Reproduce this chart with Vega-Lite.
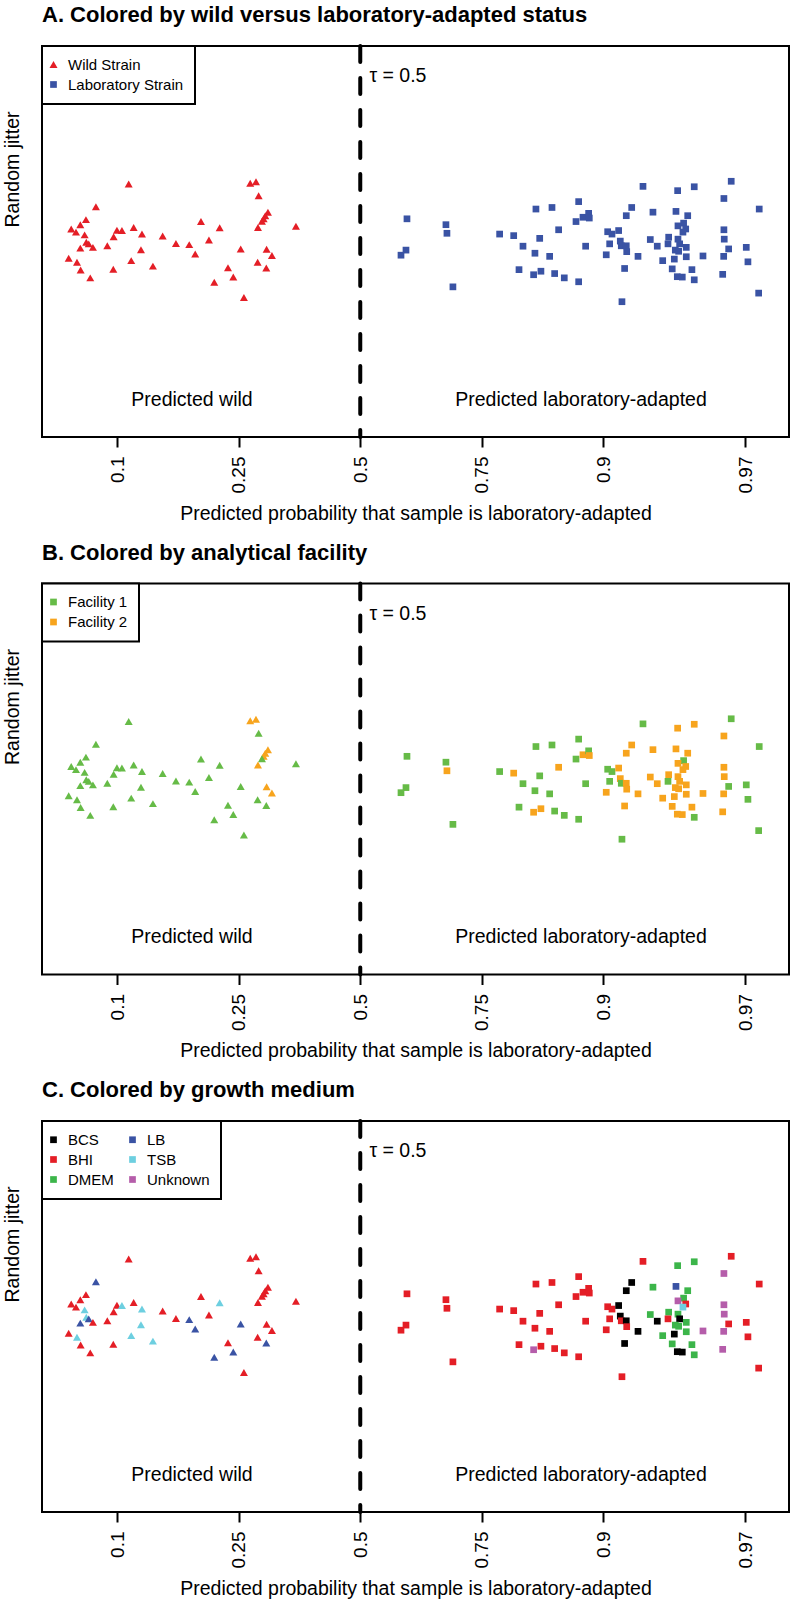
{
  "$schema": "https://vega.github.io/schema/vega-lite/v6.json",
  "padding": {"left": 1, "top": 3, "right": 0, "bottom": 0},
  "bounds": "flush",
  "spacing": 146.5,
  "resolve": {
    "scale": {"color": "independent", "shape": "independent", "size": "independent"},
    "legend": {"color": "independent", "shape": "independent", "size": "independent"}
  },
  "config": {
    "font": "Liberation Sans",
    "view": {"stroke": "black", "strokeWidth": 2},
    "title": {"fontSize": 22, "fontWeight": "bold", "anchor": "start", "frame": "group", "offset": 17, "baseline": "alphabetic", "color": "black"},
    "axis": {"grid": false},
    "legend": {"strokeColor": "black", "strokeWidth": 2, "fillColor": "white", "padding": 11, "labelFontSize": 15, "labelColor": "black", "symbolSize": 45, "rowPadding": 4, "labelOffset": 7, "symbolOffset": -7}
  },
  "datasets": {
    "pts": [
      {"score": -2.092, "jitter": 0.647, "status": "Wild Strain", "facility": "Facility 1", "medium": "BHI"},
      {"score": -0.994, "jitter": 0.649, "status": "Wild Strain", "facility": "Facility 2", "medium": "BHI"},
      {"score": -0.942, "jitter": 0.653, "status": "Wild Strain", "facility": "Facility 2", "medium": "BHI"},
      {"score": -0.918, "jitter": 0.617, "status": "Wild Strain", "facility": "Facility 1", "medium": "BHI"},
      {"score": -2.388, "jitter": 0.589, "status": "Wild Strain", "facility": "Facility 1", "medium": "LB"},
      {"score": -2.478, "jitter": 0.556, "status": "Wild Strain", "facility": "Facility 1", "medium": "BHI"},
      {"score": -2.529, "jitter": 0.543, "status": "Wild Strain", "facility": "Facility 1", "medium": "BHI"},
      {"score": -2.611, "jitter": 0.532, "status": "Wild Strain", "facility": "Facility 1", "medium": "BHI"},
      {"score": -2.568, "jitter": 0.524, "status": "Wild Strain", "facility": "Facility 1", "medium": "BHI"},
      {"score": -2.490, "jitter": 0.517, "status": "Wild Strain", "facility": "Facility 1", "medium": "TSB"},
      {"score": -2.198, "jitter": 0.529, "status": "Wild Strain", "facility": "Facility 1", "medium": "BHI"},
      {"score": -2.153, "jitter": 0.528, "status": "Wild Strain", "facility": "Facility 1", "medium": "TSB"},
      {"score": -2.047, "jitter": 0.536, "status": "Wild Strain", "facility": "Facility 1", "medium": "BHI"},
      {"score": -2.228, "jitter": 0.512, "status": "Wild Strain", "facility": "Facility 1", "medium": "BHI"},
      {"score": -1.972, "jitter": 0.519, "status": "Wild Strain", "facility": "Facility 1", "medium": "TSB"},
      {"score": -2.475, "jitter": 0.498, "status": "Wild Strain", "facility": "Facility 1", "medium": "TSB"},
      {"score": -2.453, "jitter": 0.494, "status": "Wild Strain", "facility": "Facility 1", "medium": "LB"},
      {"score": -2.529, "jitter": 0.483, "status": "Wild Strain", "facility": "Facility 1", "medium": "LB"},
      {"score": -2.415, "jitter": 0.485, "status": "Wild Strain", "facility": "Facility 1", "medium": "BHI"},
      {"score": -2.285, "jitter": 0.489, "status": "Wild Strain", "facility": "Facility 1", "medium": "BHI"},
      {"score": -1.785, "jitter": 0.514, "status": "Wild Strain", "facility": "Facility 1", "medium": "BHI"},
      {"score": -1.665, "jitter": 0.495, "status": "Wild Strain", "facility": "Facility 1", "medium": "BHI"},
      {"score": -1.545, "jitter": 0.492, "status": "Wild Strain", "facility": "Facility 1", "medium": "LB"},
      {"score": -1.439, "jitter": 0.551, "status": "Wild Strain", "facility": "Facility 1", "medium": "BHI"},
      {"score": -1.270, "jitter": 0.535, "status": "Wild Strain", "facility": "Facility 1", "medium": "TSB"},
      {"score": -1.367, "jitter": 0.504, "status": "Wild Strain", "facility": "Facility 1", "medium": "BHI"},
      {"score": -1.491, "jitter": 0.468, "status": "Wild Strain", "facility": "Facility 1", "medium": "LB"},
      {"score": -1.981, "jitter": 0.479, "status": "Wild Strain", "facility": "Facility 1", "medium": "TSB"},
      {"score": -2.069, "jitter": 0.451, "status": "Wild Strain", "facility": "Facility 1", "medium": "TSB"},
      {"score": -1.873, "jitter": 0.437, "status": "Wild Strain", "facility": "Facility 1", "medium": "TSB"},
      {"score": -2.231, "jitter": 0.429, "status": "Wild Strain", "facility": "Facility 1", "medium": "BHI"},
      {"score": -2.634, "jitter": 0.457, "status": "Wild Strain", "facility": "Facility 1", "medium": "BHI"},
      {"score": -2.559, "jitter": 0.447, "status": "Wild Strain", "facility": "Facility 1", "medium": "TSB"},
      {"score": -2.526, "jitter": 0.427, "status": "Wild Strain", "facility": "Facility 1", "medium": "BHI"},
      {"score": -2.439, "jitter": 0.407, "status": "Wild Strain", "facility": "Facility 1", "medium": "BHI"},
      {"score": -1.080, "jitter": 0.481, "status": "Wild Strain", "facility": "Facility 1", "medium": "LB"},
      {"score": -1.195, "jitter": 0.433, "status": "Wild Strain", "facility": "Facility 1", "medium": "BHI"},
      {"score": -1.147, "jitter": 0.409, "status": "Wild Strain", "facility": "Facility 1", "medium": "LB"},
      {"score": -1.319, "jitter": 0.396, "status": "Wild Strain", "facility": "Facility 1", "medium": "LB"},
      {"score": -1.051, "jitter": 0.357, "status": "Wild Strain", "facility": "Facility 1", "medium": "BHI"},
      {"score": -0.834, "jitter": 0.575, "status": "Wild Strain", "facility": "Facility 2", "medium": "BHI"},
      {"score": -0.858, "jitter": 0.566, "status": "Wild Strain", "facility": "Facility 2", "medium": "BHI"},
      {"score": -0.873, "jitter": 0.558, "status": "Wild Strain", "facility": "Facility 2", "medium": "BHI"},
      {"score": -0.888, "jitter": 0.552, "status": "Wild Strain", "facility": "Facility 1", "medium": "BHI"},
      {"score": -0.924, "jitter": 0.536, "status": "Wild Strain", "facility": "Facility 2", "medium": "BHI"},
      {"score": -0.581, "jitter": 0.539, "status": "Wild Strain", "facility": "Facility 1", "medium": "BHI"},
      {"score": -0.846, "jitter": 0.480, "status": "Wild Strain", "facility": "Facility 2", "medium": "BHI"},
      {"score": -0.798, "jitter": 0.464, "status": "Wild Strain", "facility": "Facility 2", "medium": "BHI"},
      {"score": -0.927, "jitter": 0.447, "status": "Wild Strain", "facility": "Facility 1", "medium": "BHI"},
      {"score": -0.849, "jitter": 0.432, "status": "Wild Strain", "facility": "Facility 1", "medium": "LB"},
      {"score": 0.422, "jitter": 0.558, "status": "Laboratory Strain", "facility": "Facility 1", "medium": "BHI"},
      {"score": 0.413, "jitter": 0.478, "status": "Laboratory Strain", "facility": "Facility 1", "medium": "BHI"},
      {"score": 0.368, "jitter": 0.465, "status": "Laboratory Strain", "facility": "Facility 1", "medium": "BHI"},
      {"score": 0.774, "jitter": 0.543, "status": "Laboratory Strain", "facility": "Facility 1", "medium": "BHI"},
      {"score": 0.783, "jitter": 0.521, "status": "Laboratory Strain", "facility": "Facility 2", "medium": "BHI"},
      {"score": 0.837, "jitter": 0.384, "status": "Laboratory Strain", "facility": "Facility 1", "medium": "BHI"},
      {"score": 1.259, "jitter": 0.519, "status": "Laboratory Strain", "facility": "Facility 1", "medium": "BHI"},
      {"score": 1.386, "jitter": 0.515, "status": "Laboratory Strain", "facility": "Facility 2", "medium": "BHI"},
      {"score": 1.470, "jitter": 0.488, "status": "Laboratory Strain", "facility": "Facility 1", "medium": "BHI"},
      {"score": 1.434, "jitter": 0.428, "status": "Laboratory Strain", "facility": "Facility 1", "medium": "BHI"},
      {"score": 1.566, "jitter": 0.415, "status": "Laboratory Strain", "facility": "Facility 2", "medium": "Unknown"},
      {"score": 1.632, "jitter": 0.424, "status": "Laboratory Strain", "facility": "Facility 2", "medium": "BHI"},
      {"score": 1.756, "jitter": 0.418, "status": "Laboratory Strain", "facility": "Facility 1", "medium": "BHI"},
      {"score": 1.843, "jitter": 0.407, "status": "Laboratory Strain", "facility": "Facility 1", "medium": "BHI"},
      {"score": 1.973, "jitter": 0.397, "status": "Laboratory Strain", "facility": "Facility 1", "medium": "BHI"},
      {"score": 1.578, "jitter": 0.470, "status": "Laboratory Strain", "facility": "Facility 1", "medium": "BHI"},
      {"score": 1.711, "jitter": 0.462, "status": "Laboratory Strain", "facility": "Facility 1", "medium": "BHI"},
      {"score": 1.621, "jitter": 0.508, "status": "Laboratory Strain", "facility": "Facility 1", "medium": "BHI"},
      {"score": 1.587, "jitter": 0.583, "status": "Laboratory Strain", "facility": "Facility 1", "medium": "BHI"},
      {"score": 1.732, "jitter": 0.587, "status": "Laboratory Strain", "facility": "Facility 1", "medium": "BHI"},
      {"score": 1.973, "jitter": 0.602, "status": "Laboratory Strain", "facility": "Facility 1", "medium": "BHI"},
      {"score": 1.792, "jitter": 0.530, "status": "Laboratory Strain", "facility": "Facility 2", "medium": "BHI"},
      {"score": 1.949, "jitter": 0.551, "status": "Laboratory Strain", "facility": "Facility 1", "medium": "BHI"},
      {"score": 2.012, "jitter": 0.562, "status": "Laboratory Strain", "facility": "Facility 2", "medium": "BHI"},
      {"score": 2.063, "jitter": 0.572, "status": "Laboratory Strain", "facility": "Facility 1", "medium": "BHI"},
      {"score": 2.069, "jitter": 0.560, "status": "Laboratory Strain", "facility": "Facility 2", "medium": "BHI"},
      {"score": 2.036, "jitter": 0.488, "status": "Laboratory Strain", "facility": "Facility 1", "medium": "BHI"},
      {"score": 2.222, "jitter": 0.466, "status": "Laboratory Strain", "facility": "Facility 2", "medium": "BHI"},
      {"score": 2.235, "jitter": 0.525, "status": "Laboratory Strain", "facility": "Facility 1", "medium": "BHI"},
      {"score": 2.274, "jitter": 0.519, "status": "Laboratory Strain", "facility": "Facility 1", "medium": "BHI"},
      {"score": 2.334, "jitter": 0.528, "status": "Laboratory Strain", "facility": "Facility 2", "medium": "BCS"},
      {"score": 2.253, "jitter": 0.494, "status": "Laboratory Strain", "facility": "Facility 1", "medium": "BHI"},
      {"score": 2.349, "jitter": 0.501, "status": "Laboratory Strain", "facility": "Facility 2", "medium": "BCS"},
      {"score": 2.358, "jitter": 0.489, "status": "Laboratory Strain", "facility": "Facility 1", "medium": "BHI"},
      {"score": 2.403, "jitter": 0.489, "status": "Laboratory Strain", "facility": "Facility 2", "medium": "BCS"},
      {"score": 2.407, "jitter": 0.474, "status": "Laboratory Strain", "facility": "Facility 2", "medium": "BHI"},
      {"score": 2.509, "jitter": 0.462, "status": "Laboratory Strain", "facility": "Facility 2", "medium": "BCS"},
      {"score": 2.388, "jitter": 0.431, "status": "Laboratory Strain", "facility": "Facility 2", "medium": "BCS"},
      {"score": 2.364, "jitter": 0.346, "status": "Laboratory Strain", "facility": "Facility 1", "medium": "BHI"},
      {"score": 2.403, "jitter": 0.566, "status": "Laboratory Strain", "facility": "Facility 2", "medium": "BCS"},
      {"score": 2.452, "jitter": 0.587, "status": "Laboratory Strain", "facility": "Facility 2", "medium": "BCS"},
      {"score": 2.554, "jitter": 0.641, "status": "Laboratory Strain", "facility": "Facility 1", "medium": "BHI"},
      {"score": 2.644, "jitter": 0.575, "status": "Laboratory Strain", "facility": "Facility 2", "medium": "DMEM"},
      {"score": 2.620, "jitter": 0.505, "status": "Laboratory Strain", "facility": "Facility 2", "medium": "DMEM"},
      {"score": 2.683, "jitter": 0.488, "status": "Laboratory Strain", "facility": "Facility 2", "medium": "BCS"},
      {"score": 2.732, "jitter": 0.451, "status": "Laboratory Strain", "facility": "Facility 2", "medium": "DMEM"},
      {"score": 2.818, "jitter": 0.430, "status": "Laboratory Strain", "facility": "Facility 2", "medium": "DMEM"},
      {"score": 2.864, "jitter": 0.410, "status": "Laboratory Strain", "facility": "Facility 2", "medium": "BCS"},
      {"score": 2.909, "jitter": 0.409, "status": "Laboratory Strain", "facility": "Facility 2", "medium": "BCS"},
      {"score": 3.017, "jitter": 0.402, "status": "Laboratory Strain", "facility": "Facility 1", "medium": "DMEM"},
      {"score": 2.996, "jitter": 0.428, "status": "Laboratory Strain", "facility": "Facility 2", "medium": "DMEM"},
      {"score": 2.867, "jitter": 0.630, "status": "Laboratory Strain", "facility": "Facility 2", "medium": "DMEM"},
      {"score": 3.017, "jitter": 0.640, "status": "Laboratory Strain", "facility": "Facility 2", "medium": "DMEM"},
      {"score": 2.852, "jitter": 0.577, "status": "Laboratory Strain", "facility": "Facility 2", "medium": "LB"},
      {"score": 2.958, "jitter": 0.566, "status": "Laboratory Strain", "facility": "Facility 2", "medium": "DMEM"},
      {"score": 2.921, "jitter": 0.547, "status": "Laboratory Strain", "facility": "Facility 1", "medium": "DMEM"},
      {"score": 2.870, "jitter": 0.540, "status": "Laboratory Strain", "facility": "Facility 2", "medium": "Unknown"},
      {"score": 2.940, "jitter": 0.532, "status": "Laboratory Strain", "facility": "Facility 2", "medium": "BHI"},
      {"score": 2.915, "jitter": 0.524, "status": "Laboratory Strain", "facility": "Facility 2", "medium": "TSB"},
      {"score": 2.786, "jitter": 0.511, "status": "Laboratory Strain", "facility": "Facility 2", "medium": "DMEM"},
      {"score": 2.780, "jitter": 0.494, "status": "Laboratory Strain", "facility": "Facility 1", "medium": "BHI"},
      {"score": 2.870, "jitter": 0.506, "status": "Laboratory Strain", "facility": "Facility 2", "medium": "DMEM"},
      {"score": 2.885, "jitter": 0.494, "status": "Laboratory Strain", "facility": "Facility 2", "medium": "BCS"},
      {"score": 2.846, "jitter": 0.478, "status": "Laboratory Strain", "facility": "Facility 2", "medium": "DMEM"},
      {"score": 2.876, "jitter": 0.475, "status": "Laboratory Strain", "facility": "Facility 2", "medium": "DMEM"},
      {"score": 2.837, "jitter": 0.455, "status": "Laboratory Strain", "facility": "Facility 2", "medium": "BCS"},
      {"score": 2.945, "jitter": 0.485, "status": "Laboratory Strain", "facility": "Facility 2", "medium": "DMEM"},
      {"score": 2.945, "jitter": 0.461, "status": "Laboratory Strain", "facility": "Facility 2", "medium": "DMEM"},
      {"score": 3.096, "jitter": 0.463, "status": "Laboratory Strain", "facility": "Facility 2", "medium": "Unknown"},
      {"score": 3.285, "jitter": 0.610, "status": "Laboratory Strain", "facility": "Facility 2", "medium": "Unknown"},
      {"score": 3.351, "jitter": 0.654, "status": "Laboratory Strain", "facility": "Facility 1", "medium": "BHI"},
      {"score": 3.285, "jitter": 0.530, "status": "Laboratory Strain", "facility": "Facility 2", "medium": "Unknown"},
      {"score": 3.288, "jitter": 0.506, "status": "Laboratory Strain", "facility": "Facility 2", "medium": "Unknown"},
      {"score": 3.328, "jitter": 0.481, "status": "Laboratory Strain", "facility": "Facility 1", "medium": "BHI"},
      {"score": 3.283, "jitter": 0.462, "status": "Laboratory Strain", "facility": "Facility 2", "medium": "Unknown"},
      {"score": 3.487, "jitter": 0.485, "status": "Laboratory Strain", "facility": "Facility 1", "medium": "BHI"},
      {"score": 3.502, "jitter": 0.448, "status": "Laboratory Strain", "facility": "Facility 1", "medium": "BHI"},
      {"score": 3.274, "jitter": 0.416, "status": "Laboratory Strain", "facility": "Facility 2", "medium": "Unknown"},
      {"score": 3.604, "jitter": 0.583, "status": "Laboratory Strain", "facility": "Facility 1", "medium": "BHI"},
      {"score": 3.599, "jitter": 0.368, "status": "Laboratory Strain", "facility": "Facility 1", "medium": "BHI"}
    ],
    "notes": [
      {"score": 0.34, "jitter": 0.923, "note": "τ = 0.5"},
      {"score": -1.52, "jitter": 0.095, "note": "Predicted wild"},
      {"score": 1.994, "jitter": 0.095, "note": "Predicted laboratory-adapted"}
    ],
    "cutoff": [{"score": 0}]
  },
  "vconcat": [
    {
      "width": 747, "height": 391,
      "title": "A. Colored by wild versus laboratory-adapted status",
      "layer": [
        {
          "data": {"name": "pts"},
          "mark": {"type": "point", "filled": true, "opacity": 1, "strokeWidth": 0},
          "encoding": {
            "x": {"field": "score", "type": "quantitative", "scale": {"domain": [-2.875, 3.873], "nice": false, "zero": false},
              "axis": {"title": "Predicted probability that sample is laboratory-adapted", "values": [-2.1972, -1.0986, 0, 1.0986, 2.1972, 3.4761],
                "labelExpr": "datum.value < -2 ? '0.1' : datum.value < -1 ? '0.25' : datum.value < 0.5 ? '0.5' : datum.value < 1.5 ? '0.75' : datum.value < 3 ? '0.9' : '0.97'",
                "labelAngle": 270, "labelAlign": "right", "labelBaseline": "middle", "labelPadding": 9, "labelFontSize": 19, "labelColor": "black", "labelFlush": false, "labelOverlap": false,
                "tickSize": 10, "tickWidth": 2, "tickColor": "black", "domain": false, "grid": false,
                "titleFontSize": 19.5, "titleFontWeight": "normal", "titleColor": "black", "titleY": 82, "titleBaseline": "alphabetic"}},
            "y": {"field": "jitter", "type": "quantitative", "scale": {"domain": [0, 1], "nice": false},
              "axis": {"title": "Random jitter", "labels": false, "ticks": false, "domain": false, "grid": false, "titleFontSize": 19.5, "titleFontWeight": "normal", "titleColor": "black", "titleX": -20, "titleY": 123, "titleAngle": 270, "titleAlign": "center", "titleBaseline": "bottom"}},
            "color": {"field": "status", "type": "nominal", "scale": {"domain": ["Wild Strain", "Laboratory Strain"], "range": ["#E41E26", "#3A53A4"]},
              "legend": {"title": null, "orient": "none", "legendX": 0, "legendY": 0, "strokeColor": "black", "padding": 11, "labelFontSize": 15, "symbolSize": 45, "rowPadding": 4, "labelOffset": 7, "symbolOffset": -7}},
            "shape": {"field": "status", "type": "nominal", "scale": {"domain": ["Wild Strain", "Laboratory Strain"], "range": ["triangle-up", "square"]},
              "legend": {"title": null, "orient": "none", "legendX": 0, "legendY": 0, "strokeColor": "black", "padding": 11, "labelFontSize": 15, "symbolSize": 45, "rowPadding": 4, "labelOffset": 7, "symbolOffset": -7}},
            "size": {"field": "status", "type": "nominal", "scale": {"domain": ["Wild Strain", "Laboratory Strain"], "range": [64, 45]}, "legend": null}
          }
        },
        {
          "data": {"name": "cutoff"},
          "mark": {"type": "rule", "color": "black", "strokeWidth": 4, "strokeDash": [16, 16], "strokeCap": "round"},
          "encoding": {"x": {"field": "score", "type": "quantitative"}}
        },
        {
          "data": {"name": "notes"},
          "mark": {"type": "text", "fontSize": 19.5, "color": "black", "align": "center", "baseline": "middle"},
          "encoding": {"x": {"field": "score", "type": "quantitative"}, "y": {"field": "jitter", "type": "quantitative"}, "text": {"field": "note"}}
        }
      ]
    },
    {
      "width": 747, "height": 391,
      "title": "B. Colored by analytical facility",
      "layer": [
        {
          "data": {"name": "pts"},
          "mark": {"type": "point", "filled": true, "opacity": 1, "strokeWidth": 0},
          "encoding": {
            "x": {"field": "score", "type": "quantitative", "scale": {"domain": [-2.875, 3.873], "nice": false, "zero": false},
              "axis": {"title": "Predicted probability that sample is laboratory-adapted", "values": [-2.1972, -1.0986, 0, 1.0986, 2.1972, 3.4761],
                "labelExpr": "datum.value < -2 ? '0.1' : datum.value < -1 ? '0.25' : datum.value < 0.5 ? '0.5' : datum.value < 1.5 ? '0.75' : datum.value < 3 ? '0.9' : '0.97'",
                "labelAngle": 270, "labelAlign": "right", "labelBaseline": "middle", "labelPadding": 9, "labelFontSize": 19, "labelColor": "black", "labelFlush": false, "labelOverlap": false,
                "tickSize": 10, "tickWidth": 2, "tickColor": "black", "domain": false, "grid": false,
                "titleFontSize": 19.5, "titleFontWeight": "normal", "titleColor": "black", "titleY": 82, "titleBaseline": "alphabetic"}},
            "y": {"field": "jitter", "type": "quantitative", "scale": {"domain": [0, 1], "nice": false},
              "axis": {"title": "Random jitter", "labels": false, "ticks": false, "domain": false, "grid": false, "titleFontSize": 19.5, "titleFontWeight": "normal", "titleColor": "black", "titleX": -20, "titleY": 123, "titleAngle": 270, "titleAlign": "center", "titleBaseline": "bottom"}},
            "color": {"field": "facility", "type": "nominal", "scale": {"domain": ["Facility 1", "Facility 2"], "range": ["#66BB47", "#F7A41D"]},
              "legend": {"title": null, "orient": "none", "legendX": 0, "legendY": 0, "strokeColor": "black", "padding": 11, "labelFontSize": 15, "symbolSize": 45, "symbolType": "square", "rowPadding": 4, "labelOffset": 7, "symbolOffset": -7}},
            "shape": {"field": "status", "type": "nominal", "scale": {"domain": ["Wild Strain", "Laboratory Strain"], "range": ["triangle-up", "square"]}, "legend": null},
            "size": {"field": "status", "type": "nominal", "scale": {"domain": ["Wild Strain", "Laboratory Strain"], "range": [64, 45]}, "legend": null}
          }
        },
        {
          "data": {"name": "cutoff"},
          "mark": {"type": "rule", "color": "black", "strokeWidth": 4, "strokeDash": [16, 16], "strokeCap": "round"},
          "encoding": {"x": {"field": "score", "type": "quantitative"}}
        },
        {
          "data": {"name": "notes"},
          "mark": {"type": "text", "fontSize": 19.5, "color": "black", "align": "center", "baseline": "middle"},
          "encoding": {"x": {"field": "score", "type": "quantitative"}, "y": {"field": "jitter", "type": "quantitative"}, "text": {"field": "note"}}
        }
      ]
    },
    {
      "width": 747, "height": 391,
      "title": "C. Colored by growth medium",
      "layer": [
        {
          "data": {"name": "pts"},
          "mark": {"type": "point", "filled": true, "opacity": 1, "strokeWidth": 0},
          "encoding": {
            "x": {"field": "score", "type": "quantitative", "scale": {"domain": [-2.875, 3.873], "nice": false, "zero": false},
              "axis": {"title": "Predicted probability that sample is laboratory-adapted", "values": [-2.1972, -1.0986, 0, 1.0986, 2.1972, 3.4761],
                "labelExpr": "datum.value < -2 ? '0.1' : datum.value < -1 ? '0.25' : datum.value < 0.5 ? '0.5' : datum.value < 1.5 ? '0.75' : datum.value < 3 ? '0.9' : '0.97'",
                "labelAngle": 270, "labelAlign": "right", "labelBaseline": "middle", "labelPadding": 9, "labelFontSize": 19, "labelColor": "black", "labelFlush": false, "labelOverlap": false,
                "tickSize": 10, "tickWidth": 2, "tickColor": "black", "domain": false, "grid": false,
                "titleFontSize": 19.5, "titleFontWeight": "normal", "titleColor": "black", "titleY": 82, "titleBaseline": "alphabetic"}},
            "y": {"field": "jitter", "type": "quantitative", "scale": {"domain": [0, 1], "nice": false},
              "axis": {"title": "Random jitter", "labels": false, "ticks": false, "domain": false, "grid": false, "titleFontSize": 19.5, "titleFontWeight": "normal", "titleColor": "black", "titleX": -20, "titleY": 123, "titleAngle": 270, "titleAlign": "center", "titleBaseline": "bottom"}},
            "color": {"field": "medium", "type": "nominal", "scale": {"domain": ["BCS", "BHI", "DMEM", "LB", "TSB", "Unknown"], "range": ["#000000", "#E41E26", "#3CB54A", "#3A53A4", "#6DCFE0", "#B55DAA"]},
              "legend": {"title": null, "orient": "none", "legendX": 0, "legendY": 0, "columns": 2, "columnPadding": 15, "strokeColor": "black", "padding": 11, "labelFontSize": 15, "symbolSize": 45, "symbolType": "square", "rowPadding": 4, "labelOffset": 7, "symbolOffset": -7}},
            "shape": {"field": "status", "type": "nominal", "scale": {"domain": ["Wild Strain", "Laboratory Strain"], "range": ["triangle-up", "square"]}, "legend": null},
            "size": {"field": "status", "type": "nominal", "scale": {"domain": ["Wild Strain", "Laboratory Strain"], "range": [64, 45]}, "legend": null}
          }
        },
        {
          "data": {"name": "cutoff"},
          "mark": {"type": "rule", "color": "black", "strokeWidth": 4, "strokeDash": [16, 16], "strokeCap": "round"},
          "encoding": {"x": {"field": "score", "type": "quantitative"}}
        },
        {
          "data": {"name": "notes"},
          "mark": {"type": "text", "fontSize": 19.5, "color": "black", "align": "center", "baseline": "middle"},
          "encoding": {"x": {"field": "score", "type": "quantitative"}, "y": {"field": "jitter", "type": "quantitative"}, "text": {"field": "note"}}
        }
      ]
    }
  ]
}
